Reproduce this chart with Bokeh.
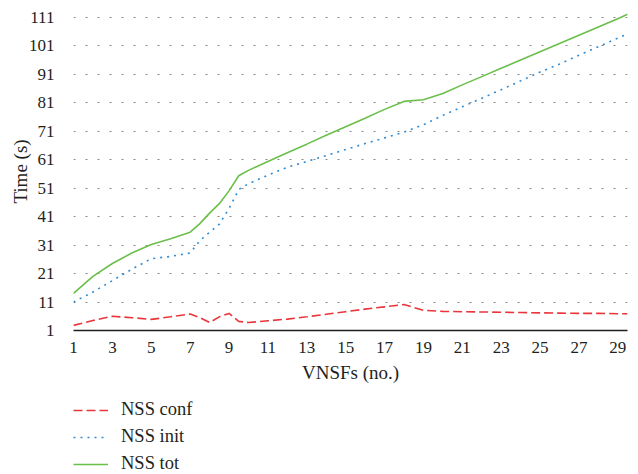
from bokeh.plotting import figure
from bokeh.models import FixedTicker, Range1d
from bokeh.layouts import column
from bokeh.embed import file_html
from bokeh.resources import INLINE

# VNSFs (no.)
vnsfs = [1, 2, 3, 4, 5, 6, 7, 7.5, 8, 8.5, 9, 9.5, 10, 11, 12, 13, 14, 15, 16, 17,
         18, 19, 20, 21, 22, 23, 24, 25, 26, 27, 28, 29, 29.5]

nss_conf = [2.8, 4.5, 6.0, 5.5, 4.9, 5.8, 6.8, 5.5, 3.8, 5.8, 7.0, 4.2, 3.8, 4.4, 5.0,
            5.8, 6.7, 7.6, 8.5, 9.3, 10.1, 8.1, 7.7, 7.6, 7.5, 7.4, 7.3, 7.2, 7.1,
            7.0, 7.0, 6.9, 6.9]

nss_init = [11.0, 14.5, 18.5, 22.5, 26.2, 27.0, 28.2, 32.5, 35.5, 38.3, 43.8, 50.5,
            52.5, 55.5, 58.3, 60.3, 62.4, 64.5, 66.6, 68.6, 70.6, 73.2, 76.5, 79.5,
            82.5, 85.5, 88.6, 91.7, 94.5, 97.6, 100.6, 103.6, 105.0]

nss_tot = [14.0, 20.0, 24.5, 28.2, 31.2, 33.2, 35.5, 38.5, 42.2, 45.5, 50.0, 55.3,
           57.2, 60.3, 63.4, 66.4, 69.5, 72.5, 75.5, 78.6, 81.4, 82.0, 84.2, 87.2,
           90.1, 93.0, 95.9, 98.8, 101.7, 104.6, 107.5, 110.4, 112.0]

series_names = ["NSS conf", "NSS init", "NSS tot"]
x_ticks = list(range(1, 30, 2))
y_ticks = list(range(1, 112, 10))

FONT = "Liberation Serif"
TXT = "#231f20"
STYLES = [dict(line_color="#e8363c", line_width=1.6, line_dash="9 4"),
          dict(line_color="#2f8bd3", line_width=1.6, line_dash="2 5"),
          dict(line_color="#6abf4b", line_width=1.6)]

W = 638
p = figure(width=W, height=385, output_backend="svg", toolbar_location=None,
           x_range=Range1d(1, 29.5), y_range=Range1d(1, 112.6),
           min_border_left=73, min_border_right=11, min_border_top=12,
           min_border_bottom=55)
p.outline_line_color = None

for ys, st in zip([nss_conf, nss_init, nss_tot], STYLES):
    p.line(vnsfs, ys, **st)

# grid
p.xgrid.visible = False
p.ygrid.ticker = FixedTicker(ticks=y_ticks)
p.ygrid.grid_line_color = "#888888"
p.ygrid.grid_line_dash = "2 10"
p.ygrid.grid_line_width = 1.2

# x axis
xa = p.xaxis[0]
xa.ticker = FixedTicker(ticks=x_ticks)
xa.axis_line_color = "#231f20"
xa.axis_line_width = 1.6
xa.major_tick_line_color = None
xa.minor_tick_line_color = None
xa.major_label_standoff = 5
xa.major_label_text_font = FONT
xa.major_label_text_font_size = "17px"
xa.major_label_text_color = TXT
xa.axis_label = "VNSFs (no.)"
xa.axis_label_text_font = FONT
xa.axis_label_text_font_size = "19px"
xa.axis_label_text_font_style = "normal"
xa.axis_label_text_color = TXT
xa.axis_label_standoff = 6

# y axis
ya = p.yaxis[0]
ya.ticker = FixedTicker(ticks=y_ticks)
ya.axis_line_color = None
ya.major_tick_line_color = None
ya.minor_tick_line_color = None
ya.major_label_standoff = 13
ya.major_label_text_font = FONT
ya.major_label_text_font_size = "17px"
ya.major_label_text_color = TXT
ya.axis_label = "Time (s)"
ya.axis_label_text_font = FONT
ya.axis_label_text_font_size = "19px"
ya.axis_label_text_font_style = "normal"
ya.axis_label_text_color = TXT
ya.axis_label_standoff = -5

# legend panel below the chart (series drawn outside its visible range,
# only their legend samples show)
pl = figure(width=W, height=89, output_backend="svg", toolbar_location=None,
            x_range=Range1d(1, 29.5), y_range=Range1d(1000, 1001),
            x_axis_location=None, y_axis_location=None,
            min_border_left=0, min_border_right=0, min_border_top=0,
            min_border_bottom=0)
pl.outline_line_color = None
pl.grid.visible = False
for ys, name, st in zip([nss_conf, nss_init, nss_tot], series_names, STYLES):
    pl.line(vnsfs, ys, legend_label=name, **st)

lg = pl.legend[0]
lg.location = (0, 0)
lg.border_line_color = None
lg.background_fill_alpha = 0
lg.padding = 0
lg.margin = 0
lg.spacing = 6
lg.glyph_width = 35
lg.glyph_height = 16
lg.label_height = 16
lg.label_standoff = 13
lg.label_text_font = FONT
lg.label_text_font_size = "18.5px"
lg.label_text_color = TXT

layout = column(p, pl, spacing=0)
open("out.html", "w").write(file_html(layout, INLINE))
